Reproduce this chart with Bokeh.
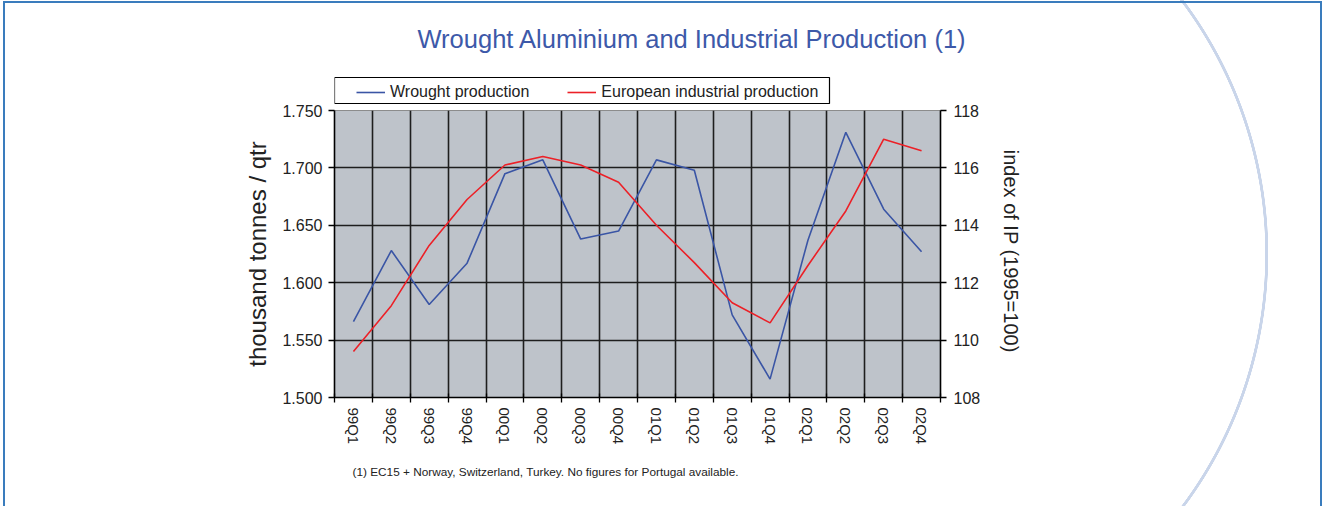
import numpy as np
from bokeh.plotting import figure
from bokeh.layouts import column
from bokeh.models import (Range1d, LinearAxis, FixedTicker, NumeralTickFormatter, Label,
                          Legend, LegendItem, Grid, BoxAnnotation, Title)
from bokeh.embed import file_html
from bokeh.resources import INLINE

# ---------------- data ----------------
quarters = ["99Q1", "99Q2", "99Q3", "99Q4", "00Q1", "00Q2", "00Q3", "00Q4",
            "01Q1", "01Q2", "01Q3", "01Q4", "02Q1", "02Q2", "02Q3", "02Q4"]
wrought = [1.566, 1.628, 1.581, 1.617, 1.695, 1.707, 1.638, 1.645,
           1.707, 1.698, 1.572, 1.516, 1.637, 1.731, 1.664, 1.627]
ip_index = [109.6, 111.2, 113.3, 114.9, 116.1, 116.4, 116.1, 115.5,
            114.0, 112.7, 111.3, 110.6, 112.6, 114.5, 117.0, 116.6]
left_ticks = [1.500, 1.550, 1.600, 1.650, 1.700, 1.750]
right_ticks = [108, 110, 112, 114, 116, 118]
series_names = ["Wrought production", "European industrial production"]
title_text = "Wrought Aluminium and Industrial Production (1)"
left_label = "thousand tonnes / qtr"
right_label = "index of IP  (1995=100)"
footnote = "(1) EC15 + Norway, Switzerland, Turkey.  No figures for Portugal available."

# ---------------- styling ----------------
FONT = "Liberation Sans"
BLUE = "#3a55a5"
RED = "#ec2027"
TITLE_C = "#3d59a9"
TXT = "#222222"
GRID_C = "#1e1e1e"
BG = "#bec3ca"
FRAME_C = "#3a7cbd"
ARC_C = "#c9d5ea"

W, H = 1325, 506
FL, FR, FT, FB = 334, 940, 110, 397   # frame edges in page pixels
HEAD_H = 104                          # header strip (title + legend)
MAIN_TOP = FT - HEAD_H
MAIN_BOTTOM = 50
FOOT_TOP = FB + MAIN_BOTTOM

n = len(quarters)
xpos = list(range(1, n + 1))
bounds = [i + 0.5 for i in range(0, n + 1)]

# page decoration (outer frame + arc on the right) drawn as the layout's background
deco = ", ".join([
    f"linear-gradient({FRAME_C},{FRAME_C}) 3px 1px / 2px 100% no-repeat",
    f"linear-gradient({FRAME_C},{FRAME_C}) 3px 1px / 1318px 2px no-repeat",
    f"linear-gradient({FRAME_C},{FRAME_C}) 1320px 1px / 2px 100% no-repeat",
    "linear-gradient(#ffffff,#ffffff) 0px 0px / 1100px 100% no-repeat",
    f"radial-gradient(circle 1200px at 845px 254px, transparent 420px, {ARC_C} 420.5px, "
    f"{ARC_C} 423px, transparent 423.5px)",
    "#ffffff",
])


def strip(h):
    # ranges kept away from the data so that the legend-only copies stay out of view
    f = figure(width=W, height=h, output_backend="svg", toolbar_location=None,
               x_range=Range1d(-10, -9), y_range=Range1d(-10, -9),
               x_axis_type=None, y_axis_type=None,
               min_border=0, min_border_left=0, min_border_right=0,
               min_border_top=0, min_border_bottom=0,
               background_fill_alpha=0, border_fill_alpha=0, outline_line_color=None)
    f.xgrid.visible = False
    f.ygrid.visible = False
    return f


# ---------------- header: title + legend ----------------
# (the strip's frame lines up with the chart frame: x from FL to FR, bottom at HEAD_H)
head = strip(HEAD_H)
head.title = Title(text=title_text, align="left", offset=417 - FL,
                   text_font=FONT, text_font_size="25.5px", text_font_style="normal",
                   text_color=TITLE_C, standoff=45, vertical_align="bottom")
head.add_layout(BoxAnnotation(left=0, right=829 - FL, top=HEAD_H - 77, bottom=HEAD_H - 103,
                              left_units="screen", right_units="screen",
                              top_units="screen", bottom_units="screen",
                              fill_color="white", fill_alpha=1,
                              line_color="black", line_width=1.2, line_alpha=1))
hl1 = head.line(xpos, wrought, line_color=BLUE, line_width=1.6)
hl2 = head.line(xpos, ip_index, line_color=RED, line_width=1.6)
legend = Legend(items=[LegendItem(label=series_names[0], renderers=[hl1]),
                       LegendItem(label=series_names[1], renderers=[hl2])],
                orientation="horizontal", location=(356 - FL, 3),
                padding=5, margin=0, spacing=38, glyph_width=29, glyph_height=16,
                label_standoff=5, border_line_color=None, background_fill_alpha=0,
                label_text_font=FONT, label_text_font_size="16px",
                label_text_color=TXT, label_height=16)
head.add_layout(legend)

# ---------------- main chart ----------------
p = figure(width=W, height=MAIN_TOP + (FB - FT) + MAIN_BOTTOM,
           output_backend="svg", toolbar_location=None,
           x_range=Range1d(0.5, n + 0.5),
           y_range=Range1d(left_ticks[0], left_ticks[-1]),
           x_axis_type=None, y_axis_type=None,
           min_border_left=FL, min_border_right=W - FR,
           min_border_top=MAIN_TOP, min_border_bottom=MAIN_BOTTOM,
           background_fill_color=BG, border_fill_alpha=0,
           outline_line_color="#8c8c8c", outline_line_width=1)
p.extra_y_ranges = {"ip": Range1d(right_ticks[0], right_ticks[-1])}

p.add_layout(Grid(dimension=0, ticker=FixedTicker(ticks=bounds),
                  grid_line_color=GRID_C, grid_line_width=1.6))
p.add_layout(Grid(dimension=1, ticker=FixedTicker(ticks=left_ticks),
                  grid_line_color=GRID_C, grid_line_width=1.6))

xaxis = LinearAxis(ticker=FixedTicker(ticks=xpos, minor_ticks=bounds),
                   major_label_overrides={x: q for x, q in zip(xpos, quarters)},
                   major_label_orientation=-np.pi / 2,
                   major_tick_line_color=None, major_tick_in=0, major_tick_out=5,
                   minor_tick_in=4, minor_tick_out=5, minor_tick_line_color="black",
                   minor_tick_line_width=1.3,
                   axis_line_color="black", axis_line_width=1.6,
                   major_label_standoff=5,
                   major_label_text_font=FONT, major_label_text_font_size="15px",
                   major_label_text_color=TXT)
p.add_layout(xaxis, "below")

lax = LinearAxis(ticker=FixedTicker(ticks=left_ticks),
                 formatter=NumeralTickFormatter(format="0.000"),
                 axis_label=left_label,
                 major_tick_in=0, major_tick_out=6, minor_tick_line_color=None,
                 major_tick_line_color="black", major_tick_line_width=1.3,
                 axis_line_color="black", axis_line_width=1.6,
                 major_label_standoff=6,
                 major_label_text_font=FONT, major_label_text_font_size="16px",
                 major_label_text_color=TXT,
                 axis_label_standoff=8, axis_label_text_font=FONT,
                 axis_label_text_font_size="24px", axis_label_text_font_style="normal",
                 axis_label_text_color=TXT)
p.add_layout(lax, "left")

rax = LinearAxis(y_range_name="ip", ticker=FixedTicker(ticks=right_ticks),
                 axis_label=right_label,
                 major_tick_in=0, major_tick_out=6, minor_tick_line_color=None,
                 major_tick_line_color="black", major_tick_line_width=1.3,
                 axis_line_color="black", axis_line_width=1.6,
                 major_label_standoff=7,
                 major_label_text_font=FONT, major_label_text_font_size="16px",
                 major_label_text_color=TXT,
                 axis_label_standoff=17, axis_label_text_font=FONT,
                 axis_label_text_font_size="20px", axis_label_text_font_style="normal",
                 axis_label_text_color=TXT)
p.add_layout(rax, "right")

r1 = p.line(xpos, wrought, line_color=BLUE, line_width=1.6)
r2 = p.line(xpos, ip_index, y_range_name="ip", line_color=RED, line_width=1.6)

# ---------------- footer: footnote ----------------
foot = strip(H - FOOT_TOP)
foot.add_layout(Label(x=352 - FL, y=H - 471, x_units="screen", y_units="screen",
                      text=footnote, text_align="left",
                      text_baseline="middle", text_font=FONT, text_font_size="11.8px",
                      text_color=TXT))

page = column(head, p, foot, spacing=0, styles={"background": deco})

open("out.html", "w").write(file_html(page, INLINE))
